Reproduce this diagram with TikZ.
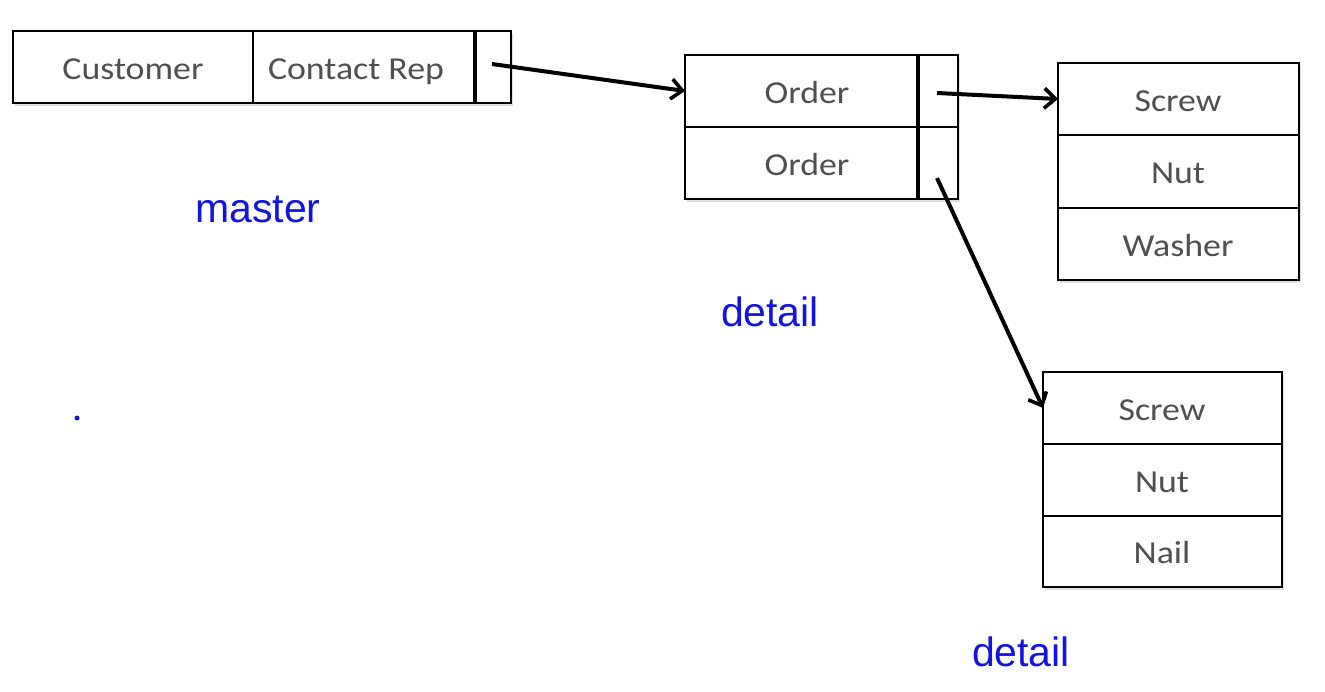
\documentclass[tikz,border=0pt]{standalone}
\usepackage{fontspec}
\setmainfont[FakeStretch=1.12]{Carlito}
\newfontfamily\arialfont{Liberation Sans}
\usetikzlibrary{arrows.meta,shadows}
\definecolor{txtgrey}{RGB}{80,80,80}
\definecolor{lblblue}{RGB}{20,20,225}
\begin{document}
\begin{tikzpicture}[x=1pt,y=-1pt,
  cell/.style={draw=black, line width=1.5pt, fill=white, minimum width=#1, minimum height=72pt,
    inner sep=0pt, outer sep=0pt,
    drop shadow={shadow xshift=2pt,shadow yshift=-2.5pt,opacity=0.25}},
  txt/.style={text=txtgrey, inner sep=0pt, anchor=base, font=\fontsize{32}{36}\selectfont},
  lbl/.style={text=lblblue, inner sep=0pt, anchor=base, font=\arialfont\fontsize{41}{46}\selectfont},
  ptrline/.style={line width=3.8pt},
  link/.style={line width=4pt, -{Straight Barb[length=11pt,width=20pt,line width=3.6pt]}}]
\useasboundingbox (0,0) rectangle (1325,691);
\fill[white] (0,0) rectangle (1325,691);

% master
\node[cell=240pt] (cust) at (133,67) {};
\node[cell=222pt] (crep) at (364,67) {};
\node[cell=36pt] (mptr) at (493,67) {};
\draw[ptrline] (mptr.north west) -- (mptr.south west);
\node[txt] (tcust) at (133,79) {Customer};
\node[txt] (tcrep) at (356,79) {Contact Rep};

% order
\node[cell=233pt] (ord1) at (801.5,91) {};
\node[cell=40pt] (optr1) at (938,91) {};
\node[cell=233pt] (ord2) at (801.5,163) {};
\node[cell=40pt] (optr2) at (938,163) {};
\draw[ptrline] (optr1.north west) -- (optr2.south west);
\node[txt] (tord1) at (807,103) {Order};
\node[txt] (tord2) at (807,175) {Order};

% detail box 1
\node[cell=241pt] (a1) at (1178.5,99) {};
\node[cell=241pt, minimum height=73pt] (a2) at (1178.5,171.5) {};
\node[cell=241pt] (a3) at (1178.5,244) {};
\draw[line width=2.4pt] (a3.north west) -- (a3.north east);
\node[txt] (ta1) at (1178,111) {Screw};
\node[txt] (ta2) at (1178,183.5) {Nut};
\node[txt] (ta3) at (1178,256) {Washer};

% detail box 2
\node[cell=239pt] (b1) at (1162.5,408) {};
\node[cell=239pt] (b2) at (1162.5,480) {};
\node[cell=239pt, minimum height=71pt] (b3) at (1162.5,551.5) {};
\node[txt] (tb1) at (1162,420) {Screw};
\node[txt] (tb2) at (1162,492) {Nut};
\node[txt] (tb3) at (1162,563.5) {Nail};

% labels
\node[lbl] (lmaster) at (258,222) {master};
\node[lbl] (ldet1) at (770,326) {detail};
\node[lbl] (ldet2) at (1021,666) {detail};

% stray dot
\fill[lblblue] (77,418) circle (2.5pt);

% connectors
\coordinate (s1) at (492,64);
\coordinate (s2) at (937,93);
\coordinate (s3) at (937,178);
\draw[link] (s1) -- (ord1.west);
\draw[link] (s2) -- (a1.west);
\draw[link] (s3) -- (b1.west);
\end{tikzpicture}
\end{document}
